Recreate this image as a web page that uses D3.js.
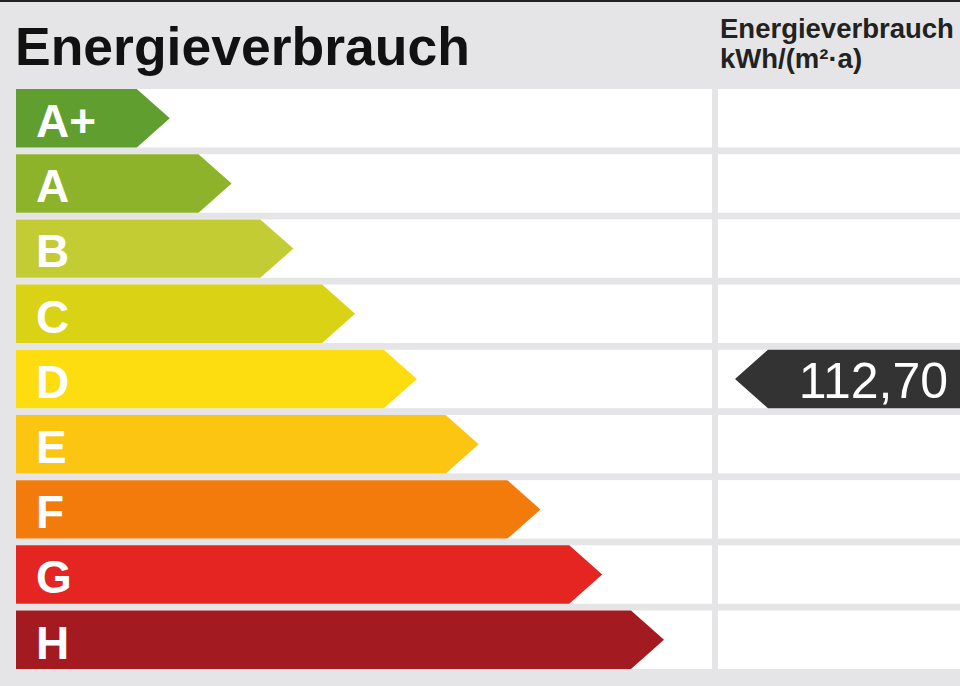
<!DOCTYPE html>
<html>
<head>
<meta charset="utf-8">
<script src="https://cdn.jsdelivr.net/npm/d3@7"></script>
<style>
  body { margin: 0; background: #e5e5e7; }
  svg { display: block; }
</style>
</head>
<body>
<div class="chart"></div>
<script>
// energy classes, top to bottom
const classes = ["A+", "A", "B", "C", "D", "E", "F", "G", "H"]
// upper limits of each class in kWh/(m²·a)
const limits = [30, 50, 75, 100, 130, 160, 200, 250, Infinity]
const colors = ["#5f9e2f", "#8db32a", "#c4cc34", "#dad214", "#fedd10", "#fcc512", "#f37b0c", "#e42521", "#a31a20"]
const value = 112.70
const title = "Energieverbrauch"
const unitLines = ["Energieverbrauch", "kWh/(m²·a)"]

const width = 960, height = 686
const svg = d3.select(".chart").append("svg").attr("width", width).attr("height", height)

svg.append("rect").attr("width", width).attr("height", height).attr("fill", "#e5e5e7")
svg.append("rect").attr("width", width).attr("height", 2).attr("fill", "#222")

const y = d3.scaleBand().domain(classes).range([89, 669]).paddingInner(0.103)
const x = d3.scaleLinear().domain([0, classes.length]).range([108, 664])
const tip = 33

// white rows
svg.selectAll("rect.rowL").data(classes).enter().append("rect")
  .attr("x", 16).attr("y", d => y(d))
  .attr("width", 712 - 16).attr("height", y.bandwidth())
  .attr("fill", "#fff")
svg.selectAll("rect.rowR").data(classes).enter().append("rect")
  .attr("x", 718).attr("y", d => y(d))
  .attr("width", width - 718).attr("height", y.bandwidth())
  .attr("fill", "#fff")

// arrow bars
svg.selectAll("path.bar").data(classes).enter().append("path")
  .attr("fill", (d, i) => colors[i])
  .attr("d", (d, i) => {
    const t = y(d), b = t + y.bandwidth(), e = x(i + 1)
    return `M16,${t}H${e - tip}L${e},${(t + b) / 2}L${e - tip},${b}H16Z`
  })

svg.selectAll("text.cls").data(classes).enter().append("text")
  .attr("x", 36).attr("y", d => y(d) + 48)
  .attr("fill", "#fff")
  .style("font-family", "Liberation Sans, Arial, sans-serif")
  .style("font-weight", "bold").style("font-size", "46px")
  .text(d => d)

// header
svg.append("text").attr("x", 15).attr("y", 65)
  .style("font-family", "Liberation Sans, Arial, sans-serif")
  .style("font-weight", "bold").style("font-size", "53.5px").attr("fill", "#111")
  .text(title)

svg.selectAll("text.unit").data(unitLines).enter().append("text")
  .attr("x", 720).attr("y", (d, i) => 38 + i * 30)
  .style("font-family", "Liberation Sans, Arial, sans-serif")
  .style("font-weight", "bold").style("font-size", "27.5px").attr("fill", "#222")
  .text(d => d)

// value marker
const idx = limits.findIndex(l => value < l)
const mt = y(classes[idx]), mb = mt + y.bandwidth()
svg.append("path").attr("fill", "#333333")
  .attr("d", `M735,${(mt + mb) / 2}L${735 + tip},${mt}H${width}V${mb}H${735 + tip}Z`)
svg.append("text").attr("x", 948).attr("y", mt + 48)
  .attr("text-anchor", "end").attr("fill", "#fff")
  .style("font-family", "Liberation Sans, Arial, sans-serif")
  .style("font-size", "50px")
  .text(d3.format(".2f")(value).replace(".", ","))
</script>
</body>
</html>
